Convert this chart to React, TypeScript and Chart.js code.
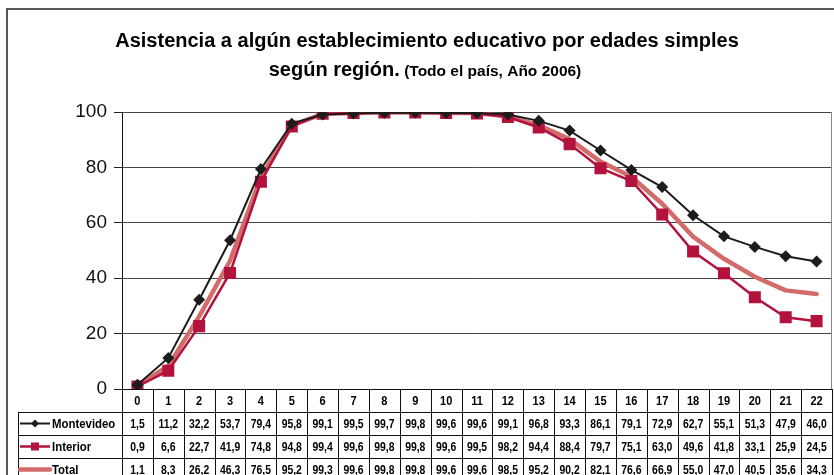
import React, { useEffect, useRef } from "react";
import { Chart, registerables } from "chart.js";

Chart.register(...registerables);

const ages = ["0","1","2","3","4","5","6","7","8","9","10","11","12","13","14","15","16","17","18","19","20","21","22"];
const montevideo = [1.5,11.2,32.2,53.7,79.4,95.8,99.1,99.5,99.7,99.8,99.6,99.6,99.1,96.8,93.3,86.1,79.1,72.9,62.7,55.1,51.3,47.9,46.0];
const interior = [0.9,6.6,22.7,41.9,74.8,94.8,99.4,99.6,99.8,99.8,99.6,99.5,98.2,94.4,88.4,79.7,75.1,63.0,49.6,41.8,33.1,25.9,24.5];
const total = [1.1,8.3,26.2,46.3,76.5,95.2,99.3,99.6,99.8,99.8,99.6,99.6,98.5,95.2,90.2,82.1,76.6,66.9,55.0,47.0,40.5,35.6,34.3];
const seriesNames = ["Montevideo", "Interior", "Total"];
const yTicks = [0, 20, 40, 60, 80, 100];
const titleLine1 = "Asistencia a algún establecimiento educativo por edades simples";
const titleLine2a = "según región.";
const titleLine2b = " (Todo el país, Año 2006)";

const FONT = "'Liberation Sans', Arial, sans-serif";
const C_MVD = "#1c1c1c";
const C_INT = "#b3123d";
const C_TOT = "#d36b6b";

const fmt = (v: number) => v.toFixed(1).replace(".", ",");

function narrowText(ctx: CanvasRenderingContext2D, text: string, x: number, y: number, sx: number) {
  ctx.save();
  ctx.translate(x, y);
  ctx.scale(sx, 1);
  ctx.fillText(text, 0, 0);
  ctx.restore();
}

const decorPlugin = {
  id: "decor",
  afterDraw(chart: any) {
    const ctx = chart.ctx as CanvasRenderingContext2D;
    const area = chart.chartArea;
    const xs = chart.scales.x;
    ctx.save();
    // outer frame
    ctx.strokeStyle = "#222";
    ctx.lineWidth = 1.5;
    ctx.beginPath();
    ctx.moveTo(7, 480);
    ctx.lineTo(7, 9);
    ctx.lineTo(840, 9);
    ctx.stroke();

    // title
    ctx.fillStyle = "#000";
    ctx.textBaseline = "alphabetic";
    ctx.textAlign = "left";
    ctx.font = `bold 20px ${FONT}`;
    const w1 = ctx.measureText(titleLine1).width;
    ctx.fillText(titleLine1, 427 - w1 / 2, 47);
    const wa = ctx.measureText(titleLine2a).width;
    ctx.font = `bold 15.5px ${FONT}`;
    const wb = ctx.measureText(titleLine2b).width;
    const start2 = 425 - (wa + wb) / 2;
    ctx.font = `bold 20px ${FONT}`;
    ctx.fillText(titleLine2a, start2, 76);
    ctx.font = `bold 15.5px ${FONT}`;
    ctx.fillText(titleLine2b, start2 + wa, 76);

    // plot right border
    ctx.strokeStyle = "#888";
    ctx.lineWidth = 1;
    ctx.beginPath();
    ctx.moveTo(area.right - 0.5, area.top);
    ctx.lineTo(area.right - 0.5, area.bottom);
    ctx.stroke();

    // table
    const colW = xs.getPixelForValue(1) - xs.getPixelForValue(0);
    const rowH = 23;
    const top = area.bottom;
    const labelLeft = 18;
    const nRows = 4;
    ctx.strokeStyle = "#111";
    ctx.lineWidth = 1;
    ctx.beginPath();
    for (let r = 0; r <= nRows; r++) {
      const y = Math.round(top + r * rowH) + 0.5;
      const x0 = r === 0 ? area.left : labelLeft;
      ctx.moveTo(x0, y);
      ctx.lineTo(area.right, y);
    }
    for (let i = 0; i <= ages.length; i++) {
      const x = Math.round(xs.getPixelForValue(i) - colW / 2) + 0.5;
      ctx.moveTo(x, top);
      ctx.lineTo(x, top + nRows * rowH + 10);
    }
    ctx.moveTo(labelLeft + 0.5, top + rowH);
    ctx.lineTo(labelLeft + 0.5, top + nRows * rowH + 10);
    ctx.stroke();

    ctx.fillStyle = "#000";
    ctx.textAlign = "center";
    ctx.textBaseline = "middle";
    ctx.font = `bold 13px ${FONT}`;
    ages.forEach((a, i) => {
      narrowText(ctx, a, xs.getPixelForValue(i), top + rowH / 2 + 1, 0.85);
    });
    const rows = [montevideo, interior, total];
    rows.forEach((vals, r) => {
      const cy = top + (r + 1) * rowH + rowH / 2 + 1;
      vals.forEach((v, i) => {
        narrowText(ctx, fmt(v), xs.getPixelForValue(i), cy, 0.8);
      });
    });

    const keyX0 = 20, keyX1 = 50, keyC = 35;
    rows.forEach((_, r) => {
      const cy = top + (r + 1) * rowH + rowH / 2;
      ctx.lineCap = "butt";
      if (r === 0) {
        ctx.strokeStyle = C_MVD; ctx.lineWidth = 2;
        ctx.beginPath(); ctx.moveTo(keyX0, cy); ctx.lineTo(keyX1, cy); ctx.stroke();
        ctx.fillStyle = C_MVD;
        ctx.beginPath();
        ctx.moveTo(keyC, cy - 4); ctx.lineTo(keyC + 4, cy); ctx.lineTo(keyC, cy + 4); ctx.lineTo(keyC - 4, cy);
        ctx.closePath(); ctx.fill();
      } else if (r === 1) {
        ctx.strokeStyle = C_INT; ctx.lineWidth = 2.5;
        ctx.beginPath(); ctx.moveTo(keyX0, cy); ctx.lineTo(keyX1, cy); ctx.stroke();
        ctx.fillStyle = C_INT;
        ctx.fillRect(keyC - 4, cy - 4, 8, 8);
      } else {
        ctx.strokeStyle = C_TOT; ctx.lineWidth = 4.5; ctx.lineCap = "round";
        ctx.beginPath(); ctx.moveTo(keyX0, cy); ctx.lineTo(keyX1, cy); ctx.stroke();
      }
      ctx.fillStyle = "#000";
      ctx.textAlign = "left";
      ctx.font = `bold 12px ${FONT}`;
      narrowText(ctx, seriesNames[r], 52, cy + 1, 0.95);
    });
    ctx.restore();
  },
};

export default function App() {
  const ref = useRef<HTMLCanvasElement | null>(null);
  useEffect(() => {
    document.body.style.margin = "0";
    const canvas = ref.current!;
    const chart = new Chart(canvas, {
      type: "line",
      data: {
        labels: ages,
        datasets: [
          {
            label: seriesNames[0],
            data: montevideo,
            borderColor: C_MVD,
            backgroundColor: C_MVD,
            borderWidth: 2,
            pointStyle: "rectRot",
            pointRadius: 6,
            pointBorderWidth: 0,
            tension: 0,
          },
          {
            label: seriesNames[1],
            data: interior,
            borderColor: C_INT,
            backgroundColor: C_INT,
            borderWidth: 2.5,
            pointStyle: "rect",
            pointRadius: 8.5,
            pointBorderWidth: 0,
            tension: 0,
          },
          {
            label: seriesNames[2],
            data: total,
            borderColor: C_TOT,
            backgroundColor: C_TOT,
            borderWidth: 4.5,
            pointRadius: 0,
            tension: 0,
            borderCapStyle: "round",
            borderJoinStyle: "round",
          },
        ],
      },
      options: {
        responsive: false,
        animation: false,
        events: [],
        layout: { autoPadding: false, padding: { left: 0, right: 2, top: 112, bottom: 86 } },
        plugins: {
          legend: { display: false },
          title: { display: false },
          tooltip: { enabled: false },
        },
        scales: {
          x: {
            type: "category",
            display: false,
            offset: true,
          },
          y: {
            min: 0,
            max: 100,
            afterTickToLabelConversion: (s: any) => {
              s.ticks = yTicks.map((v) => ({ value: v, label: String(v) }));
            },
            afterFit: (s: any) => {
              s.width = 122;
            },
            ticks: {
              stepSize: 20,
              color: "#111",
              padding: 7,
              font: { family: FONT, size: 19 },
            },
            grid: {
              color: "#444",
              lineWidth: 1,
              tickLength: 8,
              tickColor: "#222",
            },
            border: { display: true, color: "#111", width: 1 },
          },
        },
      },
      plugins: [decorPlugin],
    });
    return () => chart.destroy();
  }, []);
  return (
    <div style={{ width: 834, height: 475, position: "relative" }}>
      <canvas ref={ref} width={834} height={475} style={{ display: "block" }} />
    </div>
  );
}
